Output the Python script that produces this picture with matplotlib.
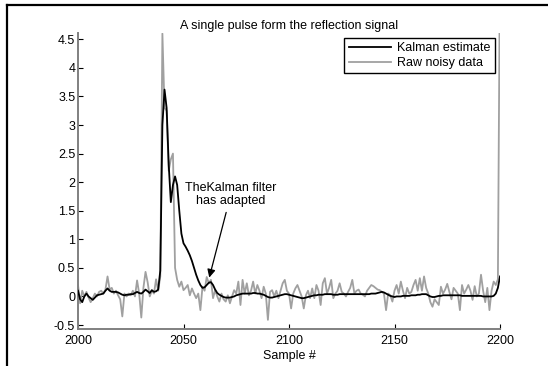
import numpy as np
import matplotlib
matplotlib.use("Agg")
import matplotlib.pyplot as plt
from matplotlib.lines import Line2D

plt.rcParams['font.family'] = ['Liberation Sans', 'DejaVu Sans']

samples = np.arange(2000, 2201)

raw_noisy = [
    0.2, -0.12, 0.1, 0.0, 0.08, -0.02, -0.1, -0.03, 0.05, 0.0,
    0.08, 0.1, 0.05, 0.12, 0.35, 0.12, 0.15, 0.05, 0.1, 0.02,
    -0.05, -0.35, 0.05, 0.0, 0.05, 0.02, 0.1, 0.0, 0.28, 0.05,
    -0.37, 0.15, 0.43, 0.25, 0.0, 0.1, 0.05, 0.3, 0.1, 0.35,
    4.6, 3.3, 3.25, 2.2, 2.4, 2.5, 0.5, 0.29, 0.17, 0.26,
    0.11, 0.15, 0.2, 0.02, 0.14, 0.05, -0.03, 0.05, -0.24, 0.17,
    0.1, 0.34, 0.23, 0.29, -0.03, 0.11, 0.0, -0.09, 0.05, -0.05,
    -0.09, 0.02, -0.12, 0.0, 0.11, 0.05, 0.26, -0.15, 0.29, 0.05,
    0.23, 0.02, 0.1, 0.26, 0.05, 0.2, 0.1, -0.03, 0.17, 0.05,
    -0.41, 0.08, 0.11, 0.0, 0.1, -0.03, 0.1, 0.23, 0.29, 0.1,
    0.05, -0.21, 0.05, 0.14, 0.2, 0.1, 0.0, -0.21, 0.02, 0.1,
    -0.03, 0.14, -0.03, 0.2, 0.1, -0.15, 0.23, 0.32, 0.05, 0.15,
    0.29, -0.03, 0.05, 0.1, 0.23, 0.08, 0.05, 0.0, 0.08, 0.15,
    0.29, 0.05, 0.1, 0.12, 0.05, 0.03, 0.0, 0.1, 0.15, 0.2,
    0.18, 0.15, 0.12, 0.11, 0.08, 0.05, -0.24, 0.05, 0.02, -0.09,
    0.1, 0.2, 0.05, 0.26, 0.1, -0.03, 0.15, 0.05, 0.08, 0.2,
    0.29, 0.1, 0.32, 0.1, 0.35, 0.15, 0.05, -0.1, -0.18, -0.05,
    -0.1, -0.15, 0.17, 0.05, 0.12, 0.22, 0.08, -0.05, 0.15, 0.1,
    0.05, -0.24, 0.2, 0.05, 0.12, 0.2, 0.1, -0.06, 0.18, 0.0,
    0.05, 0.38, 0.1, -0.1, 0.15, -0.24, 0.1, 0.26, 0.2, 0.3,
    6.0,
]

kalman_estimate = [
    0.1, -0.05, -0.1, 0.0, 0.05, 0.0, -0.03, -0.06, -0.02, 0.02,
    0.03, 0.04, 0.05, 0.1, 0.14, 0.1, 0.08, 0.08, 0.08, 0.07,
    0.05, 0.03, 0.02, 0.03, 0.03, 0.04, 0.04, 0.06, 0.08, 0.06,
    0.05, 0.08, 0.12, 0.09, 0.06, 0.11, 0.08, 0.09, 0.12, 0.45,
    3.0, 3.62, 3.3, 2.3, 1.65, 1.95, 2.1, 1.95, 1.5, 1.1,
    0.93, 0.87, 0.8, 0.72, 0.62, 0.5, 0.38, 0.28, 0.2, 0.15,
    0.16, 0.2, 0.24, 0.25, 0.2, 0.12, 0.06, 0.03, 0.01, -0.01,
    -0.02, -0.02, -0.02, -0.01, 0.0, 0.02, 0.03, 0.04, 0.05, 0.05,
    0.05, 0.05, 0.05, 0.06, 0.06, 0.05, 0.05, 0.04, 0.03, 0.01,
    -0.01, -0.02, -0.02, -0.01, 0.0, 0.01, 0.02, 0.03, 0.04, 0.04,
    0.03, 0.02, 0.01, 0.0, -0.01, -0.02, -0.03, -0.03, -0.02, -0.01,
    0.0, 0.01, 0.02, 0.02, 0.03, 0.03, 0.03, 0.04, 0.04, 0.04,
    0.04, 0.03, 0.03, 0.03, 0.04, 0.04, 0.04, 0.04, 0.04, 0.04,
    0.04, 0.04, 0.04, 0.04, 0.04, 0.04, 0.04, 0.04, 0.04, 0.05,
    0.05, 0.05, 0.06, 0.07, 0.08, 0.07, 0.05, 0.03, 0.01, 0.0,
    -0.01, 0.0, 0.0, 0.0, 0.01, 0.01, 0.01, 0.01, 0.02, 0.02,
    0.02, 0.03, 0.03, 0.04, 0.04, 0.04, 0.02, 0.0, -0.01, -0.01,
    0.0, 0.01, 0.01, 0.02, 0.02, 0.02, 0.02, 0.02, 0.02, 0.02,
    0.02, 0.02, 0.01, 0.01, 0.01, 0.01, 0.01, 0.01, 0.01, 0.01,
    0.01, 0.01, 0.0, 0.0, 0.0, 0.0, 0.0, 0.01, 0.05, 0.15,
    0.35,
]

x_ticks = [2000, 2050, 2100, 2150, 2200]
y_ticks = [-0.5, 0, 0.5, 1, 1.5, 2, 2.5, 3, 3.5, 4, 4.5]
y_tick_labels = ['-0.5', '0', '0.5', '1', '1.5', '2', '2.5', '3', '3.5', '4', '4.5']

W, H = 548, 366
FS = 9
fig = plt.figure(figsize=(W / 100, H / 100), dpi=100)
fig.patch.set_facecolor('white')

# outer frame lines (top and left)
fig.add_artist(Line2D([7 / W, 1.0], [1 - 5 / H, 1 - 5 / H], transform=fig.transFigure,
                      color='black', lw=1.6))
fig.add_artist(Line2D([7 / W, 7 / W], [0.0, 1 - 5 / H], transform=fig.transFigure,
                      color='black', lw=1.6))

ax = fig.add_axes([78 / W, 1 - 329.3 / H, (500 - 78) / W, (329.3 - 33) / H])

ax.plot(samples, kalman_estimate, color='black', lw=1.3, label='Kalman estimate', zorder=3)
ax.plot(samples, raw_noisy, color='#a0a0a0', lw=1.3, label='Raw noisy data', zorder=2)

ax.set_xlim(2000, 2200)
ax.set_ylim(-0.575, 4.61)
ax.set_xticks(x_ticks)
ax.set_yticks(y_ticks)
ax.set_yticklabels(y_tick_labels)

for s in ['top', 'right']:
    ax.spines[s].set_visible(False)
for s in ['left', 'bottom']:
    ax.spines[s].set_color('#808080')
    ax.spines[s].set_linewidth(1.4)

ax.tick_params(direction='in', length=3.5, width=0.8, color='black', labelsize=FS)
ax.tick_params(axis='x', pad=4)
ax.tick_params(axis='y', pad=2)

ax.set_title('A single pulse form the reflection signal', fontsize=FS, pad=3)
ax.set_xlabel('Sample #', fontsize=FS, labelpad=2)

leg = ax.legend(loc='upper right', bbox_to_anchor=(495 / W, 1 - 38 / H),
                bbox_transform=fig.transFigure, borderaxespad=0, fancybox=False,
                edgecolor='black', framealpha=1, fontsize=FS, handlelength=3.4,
                handletextpad=0.5, borderpad=0.35, labelspacing=0.2)
leg.get_frame().set_linewidth(1.0)

ax.annotate('TheKalman filter\nhas adapted', xy=(2062.2, 0.33), xytext=(2072.4, 1.78),
            ha='center', va='center', fontsize=FS, linespacing=1.05,
            arrowprops=dict(arrowstyle='-|>', color='black', lw=0.9,
                            mutation_scale=12, shrinkA=2, shrinkB=0))

fig.savefig('out.png', dpi=100, facecolor='white')
